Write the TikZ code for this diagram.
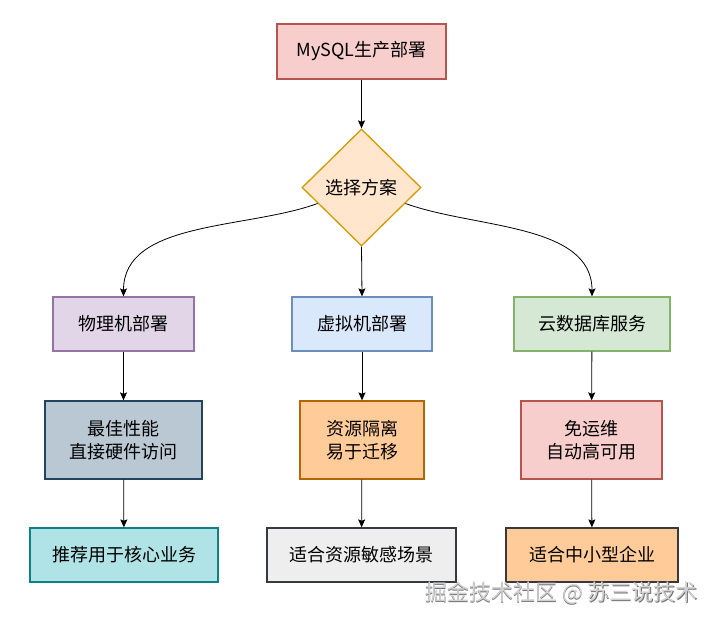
\documentclass[tikz,border=0pt]{standalone}
\usepackage{fontspec}
\setmainfont{Noto Sans CJK SC}
\usetikzlibrary{shapes.geometric,arrows.meta}
\definecolor{pinkF}{HTML}{F8CECC}\definecolor{pinkS}{HTML}{B85450}
\definecolor{orgF}{HTML}{FFE6CC}\definecolor{orgS}{HTML}{D79B00}
\definecolor{purF}{HTML}{E1D5E7}\definecolor{purS}{HTML}{9673A6}
\definecolor{bluF}{HTML}{DAE8FC}\definecolor{bluS}{HTML}{6C8EBF}
\definecolor{grnF}{HTML}{D5E8D4}\definecolor{grnS}{HTML}{82B366}
\definecolor{slaF}{HTML}{BAC8D3}\definecolor{slaS}{HTML}{23445D}
\definecolor{ocF}{HTML}{FFCC99}\definecolor{ocS}{HTML}{B46504}
\definecolor{tealF}{HTML}{B0E3E6}\definecolor{tealS}{HTML}{0E8088}
\definecolor{gryF}{HTML}{EEEEEE}\definecolor{gryS}{HTML}{36393D}
\begin{document}
\begin{tikzpicture}[x=1pt,y=1pt,
  box/.style={draw, line width=1.3pt, rectangle, minimum height=54pt, inner sep=0pt,
    font=\fontsize{18}{23}\selectfont, align=center},
  tallbox/.style={box, minimum height=78pt},
  arr/.style={-{Stealth[length=8pt,width=7pt,inset=1.5pt]}, line width=0.8pt, black}]
\useasboundingbox (0,0) rectangle (719,-622);
\fill[white] (0,0) rectangle (719,-622);

\node[box, fill=pinkF, draw=pinkS, minimum width=169pt, minimum height=55pt] (top) at (361.5,-51.5) {MySQL生产部署};
\node[diamond, draw=orgS, fill=orgF, line width=1.3pt, minimum width=119pt, minimum height=117pt, inner sep=0pt,
  font=\fontsize{18}{23}\selectfont] (dec) at (361.5,-187.5) {选择方案};

\node[box, fill=purF, draw=purS, minimum width=141pt] (b1) at (123.5,-324) {物理机部署};
\node[box, fill=bluF, draw=bluS, minimum width=140pt] (b2) at (362,-324) {虚拟机部署};
\node[box, fill=grnF, draw=grnS, minimum width=156pt] (b3) at (592,-324) {云数据库服务};

\node[tallbox, fill=slaF, draw=slaS, minimum width=157pt] (c1) at (123.5,-440) {最佳性能\\直接硬件访问};
\node[tallbox, fill=ocF, draw=ocS, minimum width=124pt] (c2) at (362,-440) {资源隔离\\易于迁移};
\node[tallbox, fill=pinkF, draw=pinkS, minimum width=141pt] (c3) at (591.5,-440) {免运维\\自动高可用};

\node[box, fill=tealF, draw=tealS, minimum width=188pt] (d1) at (124,-555) {推荐用于核心业务};
\node[box, fill=gryF, draw=gryS, minimum width=189pt] (d2) at (361.5,-555) {适合资源敏感场景};
\node[box, fill=ocF, draw=gryS, minimum width=172pt] (d3) at (592,-555) {适合中小型企业};

\draw[arr] (top) -- (dec);
\draw[arr] (dec.south) -- (b2.north);
\draw[arr] (dec) to[out=200, in=90, looseness=0.9] (b1.north);
\draw[arr] (dec) to[out=-20, in=90, looseness=0.9] (b3.north);
\draw[arr] (b1) -- (c1);
\draw[arr] (b2) -- (c2);
\draw[arr] (b3) -- (c3);
\draw[arr] (c1) -- (d1);
\draw[arr] (c2) -- (d2);
\draw[arr] (c3) -- (d3);

\node[text=black!55, font=\fontsize{22}{22}\selectfont, anchor=center] (wms) at (562.3,-594.3) {掘金技术社区 @ 苏三说技术};
\node[text=black!18, font=\fontsize{22}{22}\selectfont, anchor=center] (wm) at (561.5,-593.5) {掘金技术社区 @ 苏三说技术};
\end{tikzpicture}
\end{document}
